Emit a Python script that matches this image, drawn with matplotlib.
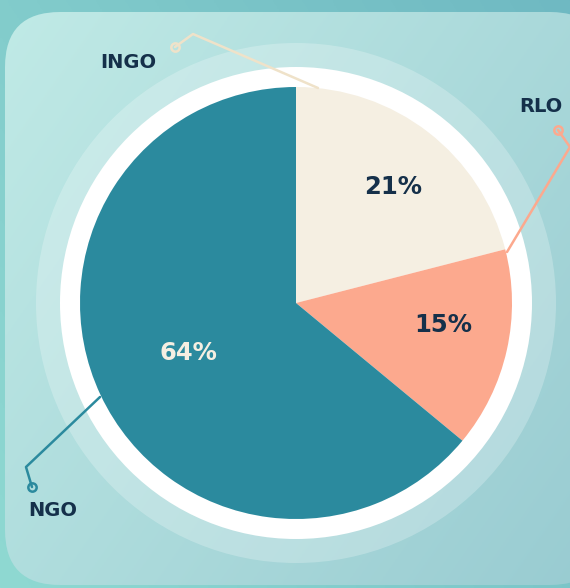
import matplotlib
matplotlib.use("Agg")
import matplotlib.pyplot as plt
import numpy as np
from matplotlib.patches import Circle, FancyBboxPatch
from matplotlib.colors import to_rgb

# data
labels = ["INGO", "RLO", "NGO"]
shares = [21, 15, 64]
colors = ["#f5efe2", "#fca98e", "#2b8a9e"]
pct_colors = ["#15304a", "#15304a", "#f5efe2"]

W, H = 570, 588
fig = plt.figure(figsize=(W / 100, H / 100), dpi=100)
ax = fig.add_axes([0, 0, 1, 1])
ax.set_xlim(0, W)
ax.set_ylim(0, H)
ax.set_aspect("equal")
ax.axis("off")


def Y(y):  # image row -> data y
    return H - y


def gradient(c1, c2, n=200):
    a, b = np.array(to_rgb(c1)), np.array(to_rgb(c2))
    xx, yy = np.meshgrid(np.linspace(0, 1, n), np.linspace(0, 1, n))
    t = (xx * 0.6 + yy * 0.4)[..., None]
    return a * (1 - t) + b * t


# outer background
ax.imshow(gradient("#8fd9d2", "#6fb9c2"), extent=[0, W, H, 0], origin="upper", zorder=0)

# rounded panel
panel = FancyBboxPatch((5, Y(585)), 600, 573, boxstyle="round,pad=0,rounding_size=55",
                       fc="none", ec="none", zorder=1)
ax.add_patch(panel)
im = ax.imshow(gradient("#c0eae6", "#98cbd1"), extent=[5, 605, Y(585), Y(12)],
               origin="upper", zorder=1)
im.set_clip_path(panel)

cx, cy, r = 296, Y(303), 216
ax.add_patch(Circle((cx, cy), 260, fc="white", alpha=0.24, ec="none", zorder=2))
ax.add_patch(Circle((cx, cy), 236, fc="white", ec="none", zorder=3))

wedges, _ = ax.pie(shares, colors=colors, startangle=90, counterclock=False,
                   center=(cx, cy), radius=r, frame=True,
                   wedgeprops=dict(linewidth=0, zorder=4))
ax.set_xlim(0, W)
ax.set_ylim(0, H)
ax.axis("off")

# percentage labels
pct_pos = [(393, 187), (443, 325), (188, 353)]
for s, (px, py), c in zip(shares, pct_pos, pct_colors):
    ax.text(px, Y(py), f"{s}%", ha="center", va="center", fontsize=17.5,
            fontweight="bold", color=c, zorder=6)

# leader lines
leaders = [
    [(318, 88), (193, 34), (175, 47)],
    [(507, 252), (570, 147), (558, 130)],
    [(100, 397), (26, 467), (32, 487)],
]
for pts, c in zip(leaders, colors):
    xs = [p[0] for p in pts]
    ys = [Y(p[1]) for p in pts]
    lc = "#efe2c9" if c == "#f5efe2" else c
    ax.plot(xs, ys, color=lc, lw=1.8, zorder=5, solid_capstyle="round")
    ax.plot(xs[-1], ys[-1], "o", ms=6, mfc="none", mec=lc, mew=1.8, zorder=5)

label_pos = [(128, 63), (541, 107), (53, 510)]
for lab, (lx, ly) in zip(labels, label_pos):
    ax.text(lx, Y(ly), lab, ha="center", va="center", fontsize=14,
            fontweight="bold", color="#15304a", zorder=6)

fig.savefig("out.png", dpi=100)
